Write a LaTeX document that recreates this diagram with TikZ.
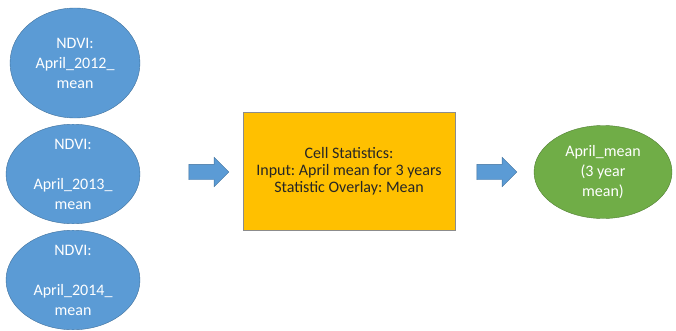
\documentclass[tikz,border=0pt]{standalone}
\usepackage{fontspec}
\setmainfont{Carlito}
\frenchspacing
\usetikzlibrary{shapes.geometric,shapes.arrows}
\definecolor{ndviblue}{HTML}{5B9BD5}
\definecolor{ndviedge}{HTML}{41719C}
\definecolor{cellfill}{HTML}{FFC000}
\definecolor{celledge}{HTML}{8C8C8C}
\definecolor{meanfill}{HTML}{70AD47}
\definecolor{meanedge}{HTML}{507E32}
\begin{document}
\begin{tikzpicture}[x=1pt,y=1pt,
		ndvi/.style={ellipse, draw=ndviedge, fill=ndviblue, text=white, align=center, inner sep=0pt, font=\fontsize{16}{20}\selectfont},
		cellbox/.style={rectangle, draw=celledge, fill=cellfill, text=black!85, align=center, font=\fontsize{16}{17}\selectfont},
		flowarrow/.style={single arrow, draw=ndviedge, fill=ndviblue, inner sep=7.5pt, single arrow head extend=7pt, minimum height=40pt, single arrow tip angle=90}]
			\useasboundingbox (0,0) rectangle (676,330);
			\node[ndvi, minimum width=130pt, minimum height=110pt] (e12) at (75,267) {NDVI:\\April\_2012\_\\mean};
			\node[ndvi, minimum width=134pt, minimum height=95pt] (e13) at (73,156) {NDVI:\\~\\April\_2013\_\\mean};
			\node[ndvi, minimum width=134pt, minimum height=96pt] (e14) at (73,50) {NDVI:\\~\\April\_2014\_\\mean};
			\node[cellbox, minimum width=212pt, minimum height=118pt] (cell) at (349,159) {Cell Statistics:\\Input: April mean for 3 years\\Statistic Overlay: Mean};
			\node[ndvi, draw=meanedge, fill=meanfill, minimum width=138pt, minimum height=93pt] (mean) at (603,158) {April\_mean\\(3 year\\mean)};
			\node[flowarrow] (arrin) at (205,158) {};
			\node[flowarrow] (arrout) at (493,158) {};
\end{tikzpicture}
\end{document}
